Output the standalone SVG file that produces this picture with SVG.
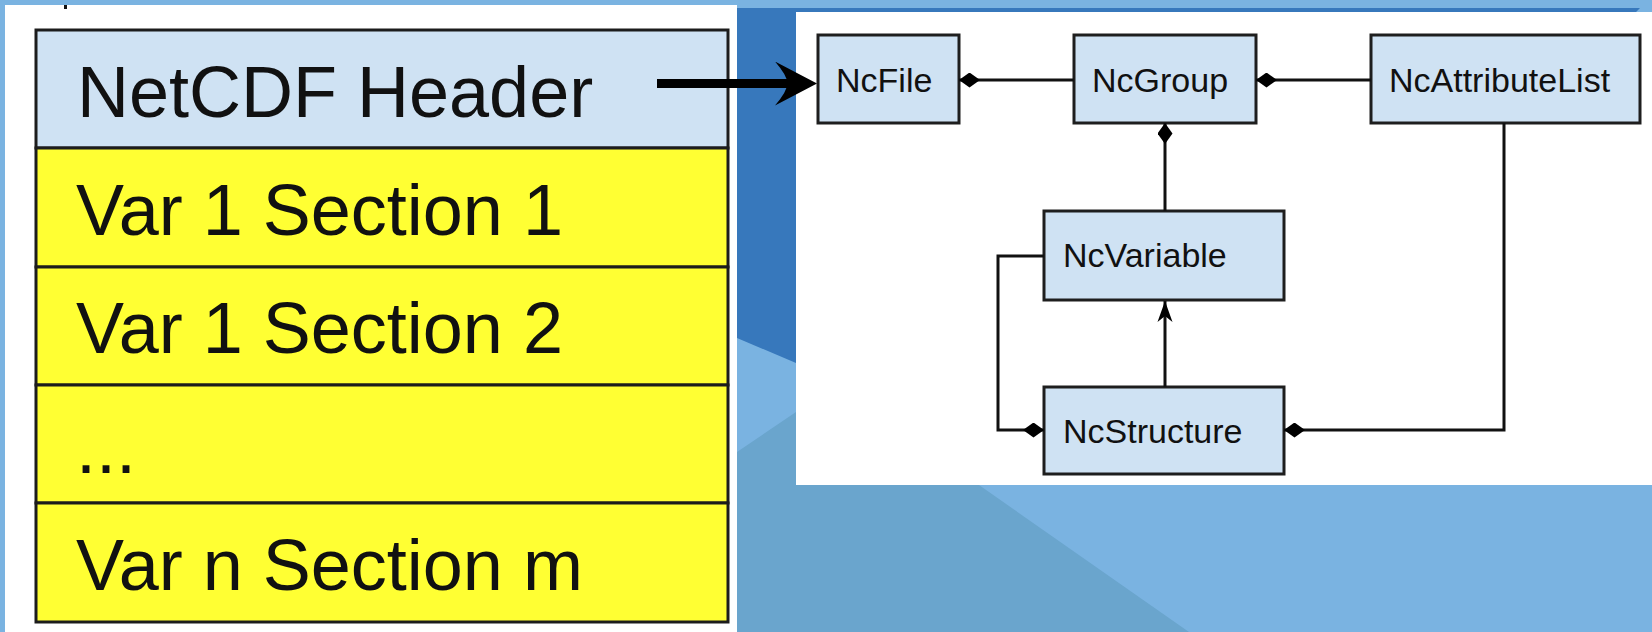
<svg xmlns="http://www.w3.org/2000/svg" width="1652" height="632" viewBox="0 0 1652 632">
  <style>
    .row { stroke: #1c1c1c; stroke-width: 3; }
    .hdr { fill: #cfe2f3; }
    .sec { fill: #ffff33; }
    .big { font-family: "Liberation Sans", Arial, sans-serif; font-size: 72px; fill: #111; }
    .box { fill: #cfe2f3; stroke: #1e1e1e; stroke-width: 3; }
    .lbl { font-family: "Liberation Sans", Arial, sans-serif; font-size: 34px; fill: #111; }
    .wire { fill: none; stroke: #111; stroke-width: 3; }
  </style>
  <defs>
    <!-- filled composition diamond, laid along the path direction -->
    <marker id="diamond" markerUnits="userSpaceOnUse" viewBox="0 0 21 15" refX="0" refY="7.5" markerWidth="21" markerHeight="15" orient="auto">
      <path d="M0,7.5 L10.5,0 L21,7.5 L10.5,15 Z" fill="#000"/>
    </marker>
    <!-- slim arrowhead for the generalisation link -->
    <marker id="slim" markerUnits="userSpaceOnUse" viewBox="0 0 21 16" refX="21" refY="8" markerWidth="21" markerHeight="16" orient="auto">
      <path d="M21,8 L0,0.5 L6,8 L0,15.5 Z" fill="#000"/>
    </marker>
    <!-- heavy arrowhead from the header to NcFile -->
    <marker id="heavy" markerUnits="userSpaceOnUse" viewBox="0 0 42 44" refX="20" refY="22" markerWidth="42" markerHeight="44" orient="auto">
      <path d="M42,22 L0,0 Q13,15 12,22 Q13,29 0,44 Z" fill="#000"/>
    </marker>
  </defs>

  <!-- backdrop -->
  <rect x="0" y="0" width="1652" height="632" fill="#7ab3e1"/>
  <polygon points="737,8 1640,8 1634,14 796,14 796,363 737,338" fill="#3778bc"/>
  <polygon points="737,452 796,412 796,485 979,485 1189,632 737,632" fill="#6aa5cd"/>
  <rect x="5" y="5" width="732" height="627" fill="#ffffff"/>
  <rect x="796" y="12" width="856" height="473" fill="#ffffff"/>
  <rect x="64" y="5" width="3" height="4" fill="#111"/>

  <!-- file layout table -->
  <g id="header">
    <rect class="row hdr" x="36" y="30" width="692" height="118"/>
    <text class="big" x="77" y="117">NetCDF Header</text>
  </g>
  <g id="var1sec1">
    <rect class="row sec" x="36" y="148" width="692" height="119"/>
    <text class="big" x="76" y="235">Var 1 Section 1</text>
  </g>
  <g id="var1sec2">
    <rect class="row sec" x="36" y="267" width="692" height="118"/>
    <text class="big" x="76" y="353">Var 1 Section 2</text>
  </g>
  <g id="ellipsis">
    <rect class="row sec" x="36" y="385" width="692" height="118"/>
    <text class="big" x="76" y="473">...</text>
  </g>
  <g id="varnsecm">
    <rect class="row sec" x="36" y="503" width="692" height="119"/>
    <text class="big" x="76" y="590">Var n Section m</text>
  </g>

  <!-- class diagram nodes -->
  <g id="NcFile">
    <rect class="box" x="818" y="35" width="141" height="88"/>
    <text class="lbl" x="836" y="92">NcFile</text>
  </g>
  <g id="NcGroup">
    <rect class="box" x="1074" y="35" width="182" height="88"/>
    <text class="lbl" x="1092" y="92">NcGroup</text>
  </g>
  <g id="NcAttributeList">
    <rect class="box" x="1371" y="35" width="269" height="88"/>
    <text class="lbl" x="1389" y="92">NcAttributeList</text>
  </g>
  <g id="NcVariable">
    <rect class="box" x="1044" y="211" width="240" height="89"/>
    <text class="lbl" x="1063" y="267">NcVariable</text>
  </g>
  <g id="NcStructure">
    <rect class="box" x="1044" y="387" width="240" height="87"/>
    <text class="lbl" x="1063" y="443">NcStructure</text>
  </g>

  <!-- connectors -->
  <g id="connectors">
    <path d="M657,83.5 L795,83.5" fill="none" stroke="#000" stroke-width="9" marker-end="url(#heavy)"/>
    <path class="wire" d="M959,80 L1074,80" marker-start="url(#diamond)"/>
    <path class="wire" d="M1256,80 L1371,80" marker-start="url(#diamond)"/>
    <path class="wire" d="M1165,123 L1165,211" marker-start="url(#diamond)"/>
    <path class="wire" d="M1165,387 L1165,301" marker-end="url(#slim)"/>
    <path class="wire" d="M1044,430 L998,430 L998,256 L1044,256" marker-start="url(#diamond)"/>
    <path class="wire" d="M1284,430 L1504,430 L1504,123" marker-start="url(#diamond)"/>
  </g>
</svg>
